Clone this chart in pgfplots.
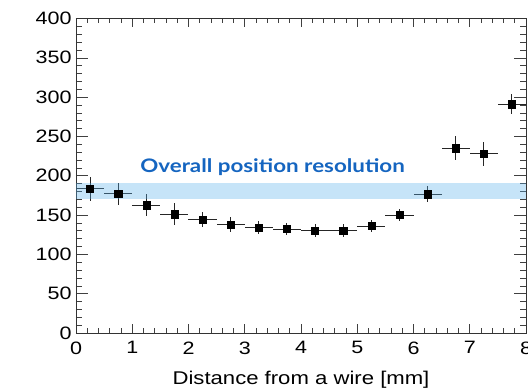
\documentclass[border=0pt]{standalone}
\usepackage{pgfplots}
\pgfplotsset{compat=1.18}
\usepackage{fontspec}
\setmainfont{Liberation Sans}
\newfontfamily\widefont[FakeStretch=1.2]{Liberation Sans}
\newfontfamily\labfont[FakeStretch=1.2]{Lato}
\usetikzlibrary{calc}
\definecolor{bandblue}{RGB}{88,176,235}
\definecolor{txtblue}{RGB}{21,101,192}
\pgfplotstableread{
x y ey
0.25 183.5 15
0.75 177 14
1.25 162.5 14
1.75 151 14
2.25 144.5 10
2.75 138 9
3.25 134 8
3.75 132.3 8
4.25 130 8
4.75 130 8
5.25 136 8
5.75 150 7.5
6.25 176.5 10
6.75 235 15
7.25 228 15
7.75 291 13
}\datatable
\begin{document}
\begin{tikzpicture}
\begin{axis}[
  name=ax,
  scale only axis,
  width=450bp, height=314.5bp,
  xmin=0, xmax=8, ymin=0, ymax=400,
  xtick={0,1,...,8}, ytick={0,50,...,400},
  minor x tick num=4, minor y tick num=4,
  tick align=inside,
  major tick length=12bp, minor tick length=6bp,
  xtick style={/pgfplots/major tick length=9bp,/pgfplots/minor tick length=5bp},
  tick style={black!75, line width=0.6pt},
  axis line style={black!80, line width=0.8pt},
  ticklabel style={font=\widefont\fontsize{18}{20}\selectfont},
  /pgf/number format/assume math mode=true,
  yticklabel style={xshift=-1bp},
  xticklabel style={yshift=-5bp},
  xlabel={Distance from a wire [mm]},
  xlabel style={font=\widefont\fontsize{18.5}{20}\selectfont, yshift=-10bp},
  clip=false,
]
\addplot[only marks, mark=square*, mark size=3.6bp, black,
  error bars/.cd, x dir=both, x fixed=0.25, y dir=both, y explicit,
  error bar style={line width=0.9pt, black!85}, error mark=none]
  table[x=x, y=y, y error=ey] {\datatable};
\fill[bandblue, opacity=0.34] (axis cs:0,170) rectangle (axis cs:8,191);
\node[anchor=base west, text=txtblue, font=\labfont\bfseries\fontsize{18.7}{22}\selectfont, inner sep=0pt]
  at (axis cs:1.14,204.5) {Overall position resolution};
\end{axis}
\pgfresetboundingbox
\path ($(ax.south west)+(-76bp,-56bp)$) rectangle ($(ax.north east)+(2bp,18.5bp)$);
\end{tikzpicture}
\end{document}
